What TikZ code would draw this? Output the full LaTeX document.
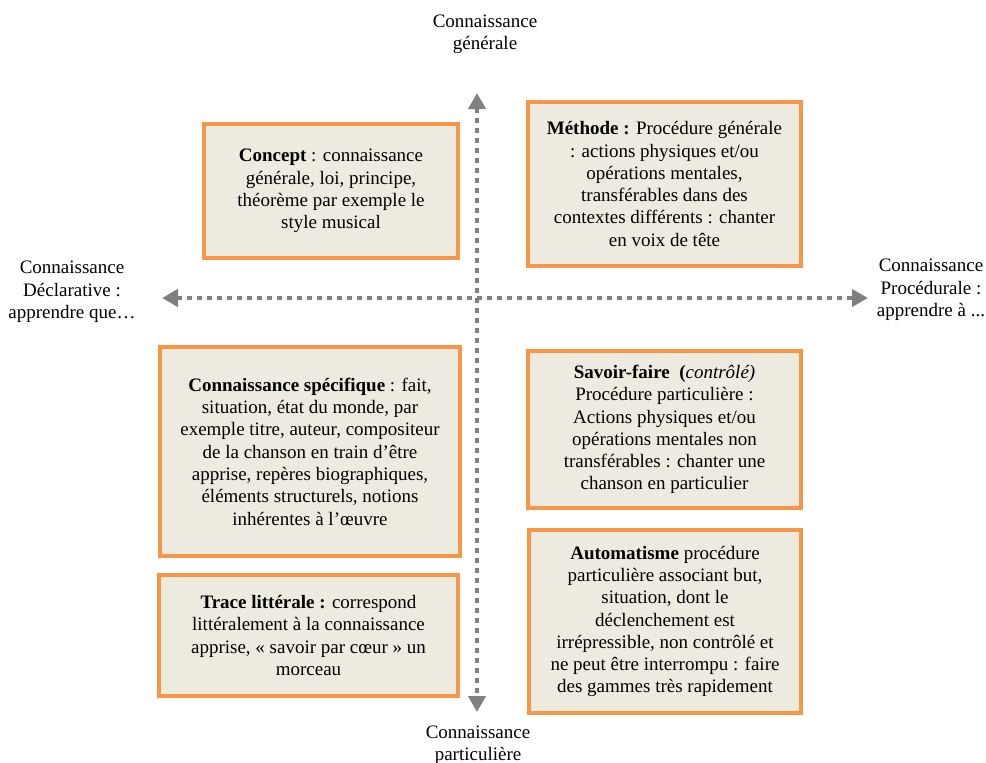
\documentclass[tikz,border=0pt]{standalone}
\usepackage{fontspec}
\setmainfont{Liberation Serif}
\usetikzlibrary{arrows.meta, positioning}
\definecolor{boxorange}{RGB}{247, 150, 70}
\definecolor{boxfill}{RGB}{237, 235, 224}
\definecolor{axisgray}{RGB}{128, 128, 128}

\begin{document}
\begin{tikzpicture}[
        x=1pt, y=-1pt,
        every node/.style={font=\fontsize{19}{22.3}\selectfont},
        kbox/.style={rectangle, draw=boxorange, fill=boxfill, line width=4pt, align=center, inner sep=0pt},
        lbl/.style={align=center, inner sep=0pt},
        axis/.style={{Triangle[length=16pt, width=17pt]}-{Triangle[length=16pt, width=17pt]}, draw=axisgray, fill=axisgray, line width=4.5pt, dash pattern=on 4.5pt off 5.5pt}
    ]
        \useasboundingbox (0,0) rectangle (986,763);

        % axes
        \coordinate (top) at (477,93);
        \coordinate (bot) at (477,712);
        \coordinate (lft) at (162,298);
        \coordinate (rgt) at (868,298);
        \draw[axis] (lft) -- (rgt);
        \draw[axis] (top) -- (bot);

        % axis labels
        \node[lbl] (gen) at (485,34) {Connaissance\\générale};
        \node[lbl] (part) at (478,745) {Connaissance\\particulière};
        \node[lbl] (decl) at (72,292) {Connaissance\\Déclarative :\\apprendre que…};
        \node[lbl] (proc) at (931,290) {Connaissance\\Procédurale :\\apprendre à ...};

        % quadrants
        \node[kbox, minimum width=254pt, minimum height=134pt] (concept) at (331,191)
            {\textbf{Concept} : connaissance\\générale, loi, principe,\\théorème par exemple le\\style musical};
        \node[kbox, minimum width=273pt, minimum height=164pt] (methode) at (664.5,184)
            {\textbf{Méthode :} Procédure générale\\: actions physiques et/ou\\opérations mentales,\\transférables dans des\\contextes différents : chanter\\en voix de tête};
        \node[kbox, minimum width=300pt, minimum height=209pt] (specif) at (310,451.5)
            {\textbf{Connaissance spécifique} : fait,\\situation, état du monde, par\\exemple titre, auteur, compositeur\\de la chanson en train d’être\\apprise, repères biographiques,\\éléments structurels, notions\\inhérentes à l’œuvre};
        \node[kbox, minimum width=273pt, minimum height=157pt] (savoir) at (664.5,429.5)
            {\textbf{Savoir-faire\ \ (}\textit{contrôlé)}\\Procédure particulière :\\Actions physiques et/ou\\opérations mentales non\\transférables : chanter une\\chanson en particulier};
        \node[kbox, minimum width=299pt, minimum height=121pt] (trace) at (308.5,635.5)
            {\textbf{Trace littérale :} correspond\\littéralement à la connaissance\\apprise, « savoir par cœur » un\\morceau};
        \node[kbox, minimum width=272pt, minimum height=183pt] (auto) at (665,621.5)
            {\textbf{Automatisme} procédure\\particulière associant but,\\situation, dont le\\déclenchement est\\irrépressible, non contrôlé et\\ne peut être interrompu : faire\\des gammes très rapidement};
    \end{tikzpicture}
\end{document}
